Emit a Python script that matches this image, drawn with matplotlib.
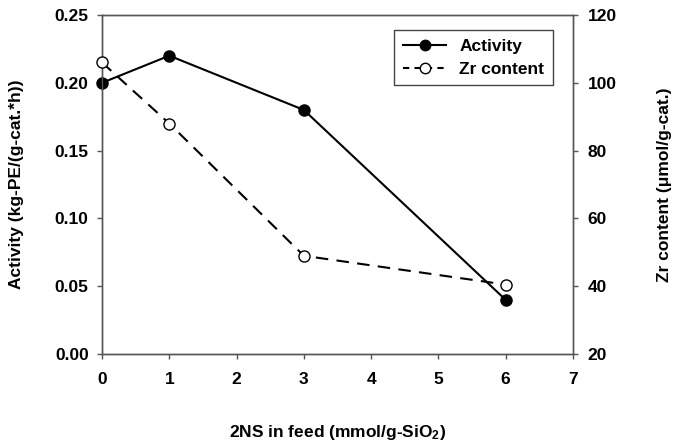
import matplotlib
matplotlib.use("Agg")
import matplotlib.pyplot as plt
from matplotlib.lines import Line2D

plt.rcParams['font.family'] = ['Liberation Sans', 'DejaVu Sans']
plt.rcParams['font.weight'] = 'bold'
plt.rcParams['mathtext.default'] = 'bf'
plt.rcParams['mathtext.fontset'] = 'custom'
plt.rcParams['mathtext.bf'] = 'Liberation Sans:bold'

feed = [0, 1, 3, 6]
activity = [0.20, 0.22, 0.18, 0.04]
zr_content = [106, 88, 49, 40.5]

x_ticks = [0, 1, 2, 3, 4, 5, 6, 7]
y1_ticks = [0.00, 0.05, 0.10, 0.15, 0.20, 0.25]
y2_ticks = [20, 40, 60, 80, 100, 120]

FS = 12.5

fig = plt.figure(figsize=(6.8, 4.41), dpi=100)
ax = fig.add_axes([0.15, 0.197, 0.6926, 0.769])
ax2 = ax.twinx()

ax.plot(feed, activity, color='black', lw=1.5, marker='o', ms=8,
        mfc='black', mec='black', clip_on=False, zorder=3)
ax2.plot(feed, zr_content, color='black', lw=1.5, ls=(0, (6, 4)), marker='o', ms=8,
         mfc='white', mec='black', clip_on=False, zorder=3)

ax.set_xlim(0, 7)
ax.set_ylim(0, 0.25)
ax2.set_ylim(20, 120)
ax.set_xticks(x_ticks)
ax.set_yticks(y1_ticks)
ax2.set_yticks(y2_ticks)
ax.set_xticklabels([str(v) for v in x_ticks])
ax.set_yticklabels([f"{v:.2f}" for v in y1_ticks])
ax2.set_yticklabels([str(v) for v in y2_ticks])

for a in (ax, ax2):
    a.tick_params(direction='out', length=3.6, width=1, labelsize=FS, color='#555555')
    for s in a.spines.values():
        s.set_linewidth(1.0)
        s.set_color('#555555')
ax.tick_params(axis='x', pad=9.5)
ax.tick_params(axis='y', pad=6)
ax2.tick_params(axis='y', pad=7)

ax.set_xlabel(r"2NS in feed (mmol/g-SiO$_2$)", fontsize=FS, fontweight='bold', labelpad=26)
ax.set_ylabel("Activity (kg-PE/(g-cat.*h))", fontsize=FS, fontweight='bold', labelpad=22)
ax2.set_ylabel("Zr content (\u03bcmol/g-cat.)", fontsize=FS, fontweight='bold', labelpad=29)

handles = [
    Line2D([], [], color='black', lw=1.5, marker='o', ms=7.5, mfc='black', mec='black'),
    Line2D([], [], color='black', lw=1.5, ls=(0, (3, 2.5)), marker='o', ms=7.5, mfc='white', mec='black'),
]
leg = ax2.legend(handles, ["Activity", "Zr content"], loc='upper right',
                 bbox_to_anchor=(0.9575, 0.956), fancybox=False, edgecolor='#444444',
                 framealpha=1, prop={'weight': 'bold', 'size': FS}, handlelength=2.5,
                 borderpad=0.5, labelspacing=0.45, handletextpad=0.75, borderaxespad=0)
leg.get_frame().set_linewidth(1.0)

fig.savefig("out.png", dpi=100)
